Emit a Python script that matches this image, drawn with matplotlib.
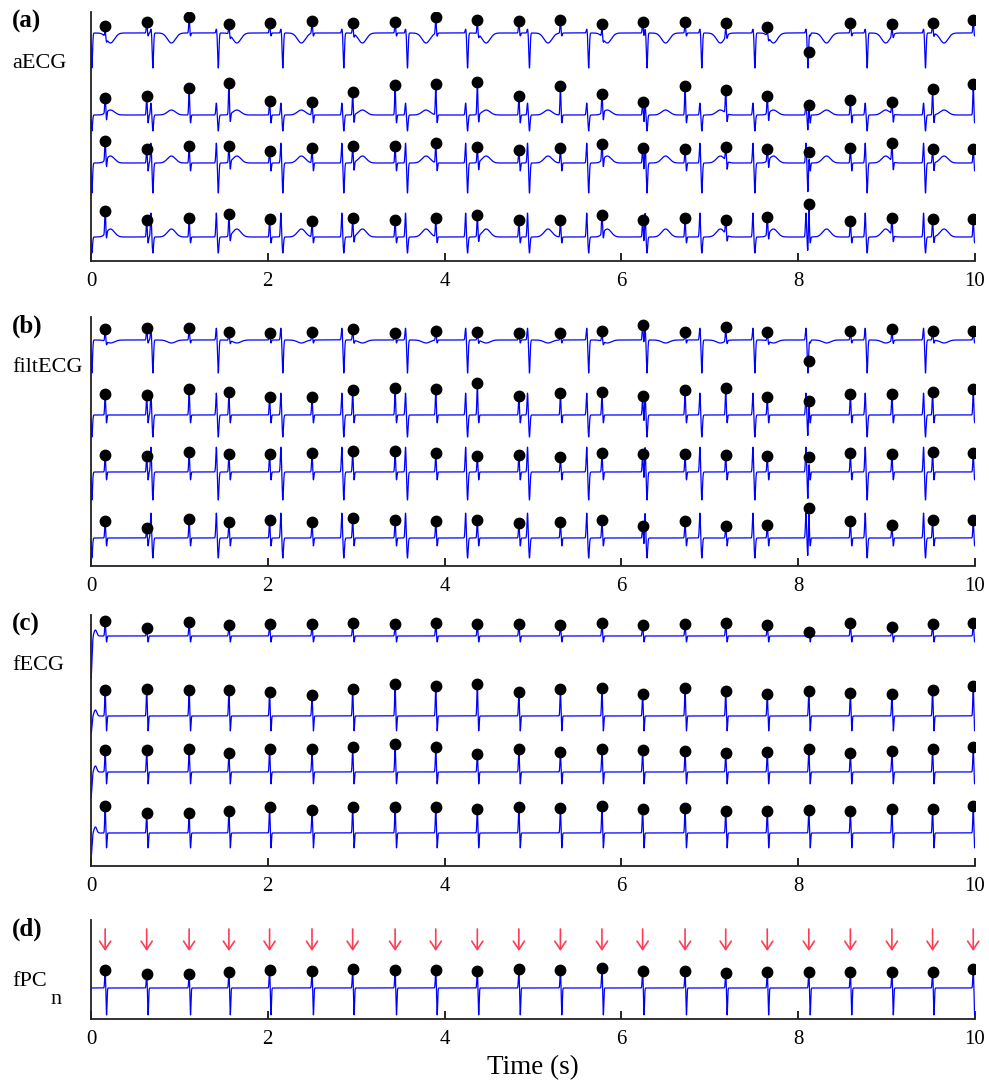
import numpy as np
import matplotlib
matplotlib.use('Agg')
import matplotlib.pyplot as plt

plt.rcParams['font.family'] = ['Liberation Serif', 'DejaVu Serif']

# beat times (s)
fetal_beats = [0.16, 0.63, 1.11, 1.56, 2.02, 2.50, 2.96, 3.44, 3.90, 4.37, 4.84,
               5.31, 5.78, 6.24, 6.72, 7.18, 7.65, 8.12, 8.59, 9.06, 9.52, 9.98]
maternal_beats = [0.0, 0.69, 1.43, 2.16, 2.85, 3.57, 4.25, 4.95, 5.62, 6.28,
                  6.90, 7.50, 8.10, 8.77, 9.43]

# detected fetal peak heights (marker height above each trace's baseline)
a_dots = [
    [7, 11, 16, 9, 10, 12, 10, 11, 16, 13, 12, 13, 9, 11, 11, 10, 6, -19, 10, 9, 10, 13],
    [17, 19, 27, 32, 14, 13, 23, 30, 31, 33, 19, 29, 21, 13, 29, 25, 19, 10, 15, 13, 26, 31],
    [22, 14, 17, 17, 12, 15, 17, 17, 20, 16, 13, 15, 19, 15, 14, 16, 14, 11, 15, 20, 14, 14],
    [26, 17, 19, 23, 18, 16, 19, 17, 19, 22, 17, 17, 22, 17, 19, 17, 20, 33, 16, 19, 18, 18],
]
b_dots = [
    [11, 12, 12, 8, 7, 8, 11, 7, 9, 8, 7, 7, 9, 15, 8, 13, 8, -21, 9, 11, 9, 9],
    [21, 20, 26, 23, 18, 18, 25, 27, 26, 32, 19, 22, 23, 19, 25, 27, 18, 14, 21, 21, 23, 26],
    [17, 16, 20, 18, 18, 19, 21, 21, 19, 16, 17, 15, 19, 18, 18, 17, 16, 15, 19, 18, 20, 19],
    [17, 10, 19, 16, 18, 16, 20, 18, 17, 18, 15, 16, 18, 12, 17, 12, 13, 30, 17, 13, 18, 18],
]
c_dots = [
    [15, 8, 14, 11, 12, 12, 13, 12, 13, 12, 12, 11, 13, 11, 12, 13, 11, 4, 13, 9, 12, 13],
    [26, 27, 26, 26, 24, 21, 27, 32, 30, 32, 24, 27, 28, 22, 28, 25, 22, 25, 23, 22, 26, 30],
    [22, 22, 23, 19, 23, 23, 25, 28, 25, 18, 23, 20, 23, 22, 21, 19, 20, 23, 19, 21, 23, 25],
    [27, 20, 20, 22, 26, 23, 26, 26, 26, 24, 26, 25, 27, 24, 25, 22, 22, 23, 22, 24, 24, 27],
]
d_dots = [18, 14, 14, 16, 18, 17, 19, 18, 18, 17, 19, 18, 20, 17, 17, 15, 16, 16, 16, 16, 16, 19]

# maternal complex amplitudes per trace: (R, S, T)
a_maternal = [(4, -35, -10), (12, -16, 5), (20, -30, 7), (24, -16, 8)]
b_maternal = [(12, -33, -3), (22, -22, 0), (25, -28, 0), (25, -20, 0)]
# negative lobe following each fetal spike
a_fneg = [-3, -8, -8, -6]
b_fneg = [-3, -8, -8, -8]
c_fneg = [-6, -15, -12, -15]
d_fneg = -27
c_start = [-42, -18, -25, -25]

fs = 1000
t = np.arange(0, 10 + 1 / fs, 1 / fs)


def pulse(t0, amp, sigma):
    return amp * np.exp(-0.5 * ((t - t0) / sigma) ** 2)


def trace(fetal_h, fneg, mat=None, start=0):
    sig = np.zeros_like(t)
    if mat is not None:
        r, s, tw = mat
        for tm in maternal_beats:
            sig += pulse(tm - 0.012, r, 0.006) + pulse(tm + 0.01, s, 0.007)
            sig += pulse(tm + 0.22, tw, 0.045)
    for tf, h in zip(fetal_beats, fetal_h):
        sig += pulse(tf, max(h, 0), 0.005) + pulse(tf + 0.016, fneg, 0.005)
    if start:
        sig += pulse(0.0, start, 0.01) + pulse(0.05, 6, 0.015)
    return sig


W, H = 989, 1084
fig = plt.figure(figsize=(W / 100, H / 100), dpi=100)


def panel(top, bottom):
    ax = fig.add_axes([91 / W, 1 - bottom / H, 884 / W, (bottom - top) / H])
    ax.set_xlim(0, 10)
    ax.set_ylim(-bottom, -top)
    for s in ['top', 'right']:
        ax.spines[s].set_visible(False)
    for s in ['left', 'bottom']:
        ax.spines[s].set_linewidth(1.3)
        ax.spines[s].set_color('#222222')
    ax.set_yticks([])
    ax.set_xticks([0, 2, 4, 6, 8, 10])
    ax.tick_params(axis='x', direction='in', length=6, width=1.2, pad=8, labelsize=15)
    return ax


def draw_rows(ax, bases, dots, fnegs, mats=None, starts=None):
    for i, base in enumerate(bases):
        mat = mats[i] if mats else None
        st = starts[i] if starts else 0
        sig = trace(dots[i], fnegs[i], mat, st)
        ax.plot(t, -base + sig, color='#0000ff', lw=0.9)
        ax.plot(fetal_beats, [-base + h for h in dots[i]], 'o', color='black', ms=7.5, zorder=5)


ax_a = panel(12, 261)
draw_rows(ax_a, [33, 115, 163, 237], a_dots, a_fneg, mats=a_maternal)
ax_b = panel(317, 566)
draw_rows(ax_b, [340, 415, 472, 538], b_dots, b_fneg, mats=b_maternal)
ax_c = panel(615, 866)
draw_rows(ax_c, [636, 716, 772, 833], c_dots, c_fneg, starts=c_start)

ax_d = panel(920, 1019)
ax_d.plot(t, -988 + trace(d_dots, d_fneg), color='#0000ff', lw=0.9)
ax_d.plot(fetal_beats, [-988 + h for h in d_dots], 'o', color='black', ms=7.5, zorder=5)
for tb in fetal_beats:
    ax_d.annotate('', xy=(tb, -951), xytext=(tb, -929), annotation_clip=False,
                  arrowprops=dict(arrowstyle='->,head_width=0.4,head_length=0.6',
                                  color='#ff3b55', lw=1.2, shrinkA=0, shrinkB=0))
ax_d.set_xlabel('Time (s)', fontsize=19.5, labelpad=4)


def ftext(x, y, s, **kw):
    fig.text(x / W, 1 - y / H, s, **kw)


for y, lab in [(10, '(a)'), (315, '(b)'), (613, '(c)'), (918, '(d)')]:
    ftext(12, y, lab, fontsize=18, fontweight='bold', va='top', ha='left')
ftext(12, 63, 'aECG', fontsize=16, va='center', ha='left')
ftext(12, 367, 'filtECG', fontsize=16, va='center', ha='left')
ftext(12, 665, 'fECG', fontsize=16, va='center', ha='left')
ftext(12, 982, 'fPC', fontsize=16, va='center', ha='left')
ftext(50, 999, 'n', fontsize=16, va='center', ha='left')

fig.savefig('out.png', dpi=100)
